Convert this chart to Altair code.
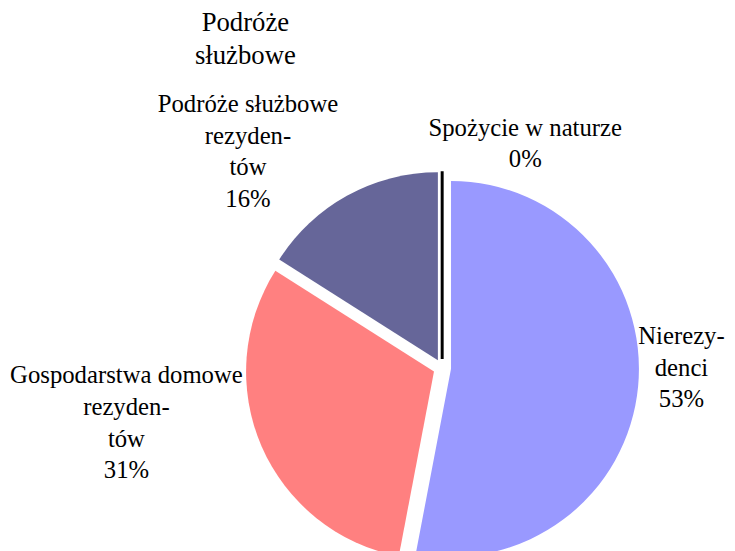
import altair as alt
import pandas as pd

# ---- data ----
categories = ["Nierezydenci", "Gospodarstwa domowe rezydentów",
              "Podróże służbowe rezydentów", "Spożycie w naturze"]
values = [53, 31, 16, 0]
label_lines = [["Nierezy-", "denci"],
               ["Gospodarstwa domowe", "rezyden-", "tów"],
               ["Podróże służbowe", "rezyden-", "tów"],
               ["Spożycie w naturze"]]
title_lines = ["Podróże", "służbowe"]

# ---- styling ----
colors = ["#9999FF", "#FF8080", "#666699", "#000000"]
FONT = "Liberation Serif"
W, H = 727, 543
CX, CY = 439, 361
R = 190
EXPLODE = 9
# label nudges (pixels) relative to each exploded slice apex
LABEL_NUDGE = [(233, -25), (-311, 12), (-192, -251), (84, -226)]

total = sum(values)
df = pd.DataFrame({
    "category": categories,
    "value": values,
    "order": list(range(len(categories))),
    "label": ["\n".join(l + [f"{round(v / total * 100)}%"]) for l, v in zip(label_lines, values)],
})

base = (
    alt.Chart(df)
    .transform_window(cum_end="sum(value)", sort=[alt.SortField("order")], frame=[None, 0])
    .transform_joinaggregate(total="sum(value)")
    .transform_calculate(t0="2*PI*(datum.cum_end - datum.value)/datum.total")
    .transform_calculate(t1="2*PI*datum.cum_end/datum.total")
    .transform_calculate(mid="(datum.t0 + datum.t1)/2")
    .transform_calculate(px=f"{CX} + {EXPLODE}*sin(datum.mid)")
    .transform_calculate(py=f"{CY} - {EXPLODE}*cos(datum.mid)")
)

pos = dict(
    x=alt.X("px:Q", scale=None, axis=None),
    y=alt.Y("py:Q", scale=None, axis=None),
)

arcs = base.mark_arc(radius=R, stroke="black").encode(
    theta=alt.Theta("t0:Q", scale=None),
    theta2=alt.Theta2("t1"),
    color=alt.Color("category:N", scale=alt.Scale(domain=categories, range=colors), legend=None),
    strokeWidth=alt.condition("datum.value == 0", alt.value(3), alt.value(0)),
    order=alt.Order("order:Q"),
    **pos,
)

layers = [arcs]
for cat, (dx, dy) in zip(categories, LABEL_NUDGE):
    layers.append(
        base.transform_filter(alt.datum.category == cat)
        .mark_text(font=FONT, fontSize=25, lineBreak="\n", lineHeight=32,
                   align="center", baseline="alphabetic", dx=dx, dy=dy, color="black")
        .encode(text="label:N", **pos)
    )

title = alt.Chart(pd.DataFrame({"t": ["\n".join(title_lines)]})).mark_text(
    font=FONT, fontSize=27, lineBreak="\n", lineHeight=34,
    align="center", baseline="alphabetic", color="black"
).encode(text="t:N", x=alt.value(240), y=alt.value(20))

chart = alt.layer(*layers, title).properties(
    width=W, height=H, padding=0, autosize="none", background="white"
).configure_view(stroke=None)

chart.save("out.html", embed_options={"renderer": "svg", "actions": False})
